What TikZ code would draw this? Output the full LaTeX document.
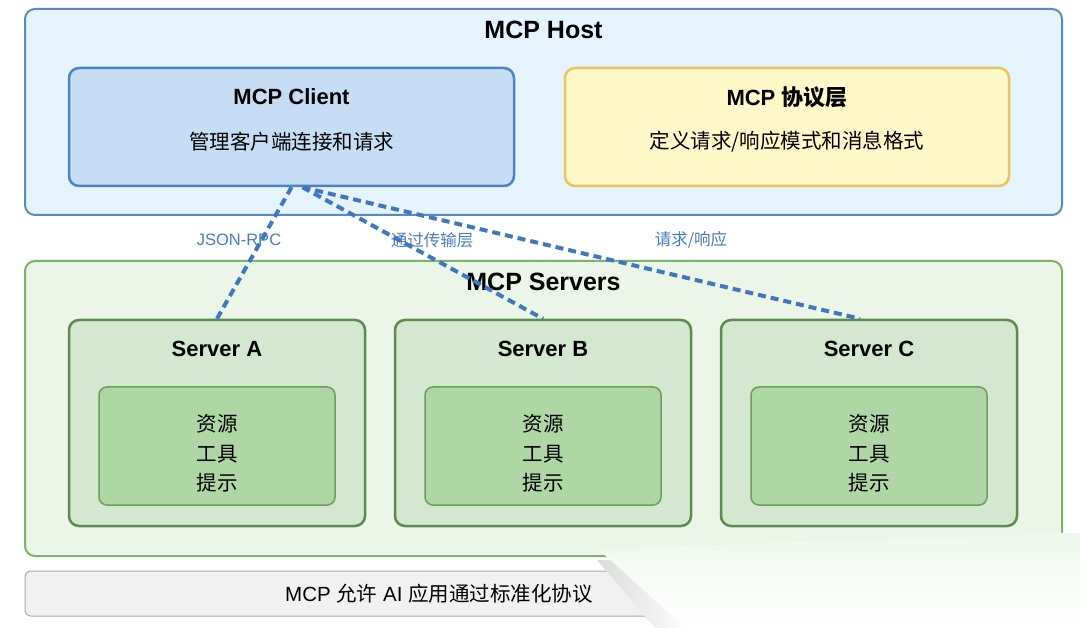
\documentclass[tikz,border=0pt]{standalone}
\usepackage{fontspec}
\setmainfont{Liberation Sans}
\newfontfamily\cjk{Noto Sans CJK SC}
\definecolor{hostfill}{HTML}{E4F3FC}
\definecolor{hostline}{HTML}{5A8AC6}
\definecolor{clientfill}{HTML}{C5DEF5}
\definecolor{clientline}{HTML}{4D82C4}
\definecolor{protofill}{HTML}{FFF8C8}
\definecolor{protoline}{HTML}{E6C55E}
\definecolor{srvsfill}{HTML}{EBF5E8}
\definecolor{srvsline}{HTML}{7DB36A}
\definecolor{srvfill}{HTML}{D3E8CE}
\definecolor{srvline}{HTML}{5B8C4E}
\definecolor{innerfill}{HTML}{AED7A5}
\definecolor{innerline}{HTML}{6C9E5E}
\definecolor{barfill}{HTML}{F1F1F1}
\definecolor{barline}{HTML}{ABABAB}
\definecolor{linkblue}{HTML}{3F78C0}
\definecolor{labelblue}{HTML}{4A7DBE}
\definecolor{curlgreen}{HTML}{EEF8EC}
\tikzset{
  box/.style={draw, rounded corners=10pt, inner sep=0pt, line width=2pt},
  bigtitle/.style={font=\fontsize{25}{28}\selectfont\bfseries, inner sep=0pt},
  title/.style={font=\fontsize{22}{26}\selectfont\bfseries, inner sep=0pt},
  body/.style={font=\fontsize{20.5}{24}\selectfont\cjk, inner sep=0pt},
  lbl/.style={font=\fontsize{16.5}{20}\selectfont, text=labelblue, inner sep=0pt},
  link/.style={draw=linkblue, line width=4pt, dash pattern=on 8pt off 5pt},
}
\begin{document}
\begin{tikzpicture}[x=1pt,y=-1pt]
\useasboundingbox (0,0) rectangle (1080,628);
\fill[white] (0,0) rectangle (1080,628);
% host
\node[box, draw=hostline, fill=hostfill, minimum width=1037pt, minimum height=206pt] (host) at (543.5,112) {};
\node[bigtitle] (hosttitle) at (543.5,30) {MCP Host};
\node[box, draw=clientline, fill=clientfill, line width=2.5pt, minimum width=445pt, minimum height=118pt] (client) at (291.5,127) {};
\node[title] (clienttitle) at (291.5,97) {MCP Client};
\node[body] (clientbody) at (291.5,142) {管理客户端连接和请求};
\node[box, draw=protoline, fill=protofill, line width=2.5pt, minimum width=444pt, minimum height=118pt] (proto) at (787,127) {};
\node[title] (prototitle) at (787,97) {MCP {\cjk\bfseries 协议层}};
\node[body] (protobody) at (787,142) {定义请求/响应模式和消息格式};
% servers
\node[box, draw=srvsline, fill=srvsfill, minimum width=1037pt, minimum height=295pt] (servers) at (543.5,408.5) {};
\node[bigtitle] (serverstitle) at (543.5,282) {MCP Servers};
\foreach \n/\x/\t in {A/217/Server A, B/543/Server B, C/869/Server C}{
  \node[box, draw=srvline, fill=srvfill, line width=2.5pt, minimum width=296pt, minimum height=206pt] (srv\n) at (\x,423) {};
  \node[title] (srv\n title) at (\x,349) {\t};
  \node[box, draw=innerline, fill=innerfill, line width=1.5pt, rounded corners=8pt, minimum width=236pt, minimum height=118pt] (inner\n) at (\x,446) {};
  \node[body, align=center, font=\fontsize{20.5}{29.5}\selectfont\cjk] (inner\n text) at (\x,453.5) {资源\\工具\\提示};
}
% labels
\node[lbl] (l1) at (239,240) {JSON-RPC};
\node[lbl] (l2) at (432,240) {\cjk 通过传输层};
\node[lbl] (l3) at (691,240) {\cjk 请求/响应};
% links
\draw[link] (client.south) -- (srvA.north);
\draw[link] ([xshift=11pt]client.south) -- (srvB.north);
\draw[link] ([xshift=11pt]client.south) -- ([xshift=-9pt]srvC.north);
% bottom bar
\node[box, draw=barline, fill=barfill, line width=1pt, rounded corners=6pt, minimum width=1037pt, minimum height=45pt] (bar) at (543.5,593.5) {};
\node[font=\fontsize{20.5}{24}\selectfont, inner sep=0pt, anchor=west] (bartext) at (285,594) {MCP {\cjk 允许} AI {\cjk 应用通过标准化协议}};
% page-curl overlay
\shade[left color=gray!28, right color=white] (597,560) -- (625,560) -- (690,628) -- (655,628) -- cycle;
\shade[top color=curlgreen, bottom color=white] (598,549) -- (1062,533) -- (1080,533) -- (1080,628) -- (686,628) -- cycle;
\end{tikzpicture}
\end{document}
